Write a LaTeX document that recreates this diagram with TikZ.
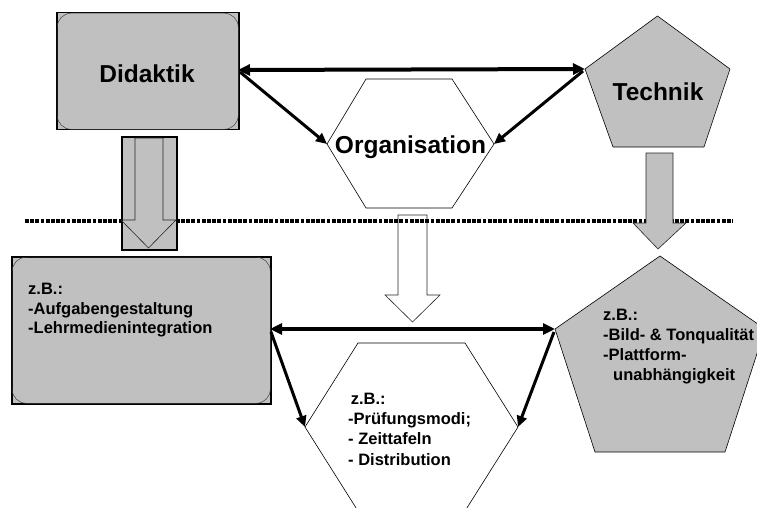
\documentclass[tikz,border=0pt]{standalone}
\usepackage{fontspec}
\setmainfont{Liberation Sans}
\usetikzlibrary{arrows.meta}
\definecolor{boxgray}{RGB}{192,192,192}
\begin{document}
\begin{tikzpicture}[x=1pt,y=-1pt,
  title/.style={font=\bfseries\fontsize{24.5}{29}\selectfont, inner sep=0pt, anchor=base},
  listA/.style={font=\bfseries\fontsize{16.5}{19.2}\selectfont, inner sep=0pt, align=left, anchor=north west},
  listB/.style={font=\bfseries\fontsize{16.5}{20.3}\selectfont, inner sep=0pt, align=left, anchor=north west},
  listC/.style={font=\bfseries\fontsize{16.5}{20}\selectfont, inner sep=0pt, align=left, anchor=north west},
  graybox/.style={draw=black, line width=1.5pt, fill=boxgray, inner sep=0pt, anchor=north west},
  innerround/.style={draw=black!75, line width=0.5pt, rounded corners=14pt},
  shapeline/.style={draw=black, line width=0.6pt},
  bigarrow/.style={draw=black!85, line width=0.6pt},
  conn/.style={line width=3pt, -{Triangle[length=11pt,width=10pt]}},
  connboth/.style={line width=4pt, {Triangle[length=12pt,width=11pt]}-{Triangle[length=12pt,width=11pt]}},
  sepline/.style={line width=3.4pt, dash pattern=on 3.8pt off 1.4pt}
]
\useasboundingbox (0,0) rectangle (757,508);

% ---------- top row ----------
\node[graybox, minimum width=182pt, minimum height=117pt] (did) at (56,12) {};
\draw[innerround] ([shift={(1.2,1.2)}]did.north west) rectangle ([shift={(-1.2,-1.2)}]did.south east);
\node[title] (didt) at (147,82.7) {Didaktik};

\coordinate (o1) at (366,79);
\coordinate (o2) at (452,79);
\coordinate (o3) at (494,144);
\coordinate (o4) at (452,208);
\coordinate (o5) at (366,208);
\coordinate (o6) at (327,144);
\filldraw[shapeline, fill=white] (o1) -- (o2) -- (o3) -- (o4) -- (o5) -- (o6) -- cycle;
\node[title] (orgt) at (410.5,153.3) {Organisation};

\coordinate (t1) at (657.5,16);
\coordinate (t2) at (730,69);
\coordinate (t3) at (704,147);
\coordinate (t4) at (613,147);
\coordinate (t5) at (585,69);
\filldraw[shapeline, fill=boxgray] (t1) -- (t2) -- (t3) -- (t4) -- (t5) -- cycle;
\node[title] (techt) at (658,101) {Technik};

% ---------- top connectors ----------
\coordinate (didE) at (238,70);
\coordinate (didE2) at (240,72);
\coordinate (tecW2) at (583,71);
\draw[connboth] (didE) -- (t5);
\draw[conn] (didE2) -- (o6);
\draw[conn] (tecW2) -- (o3);

% ---------- organisation arrow (white, behind separator) ----------
\filldraw[bigarrow, fill=white] (398,215) -- (427,215) -- (427,295) -- (440,295) -- (412.5,322) -- (385,295) -- (398,295) -- cycle;

% ---------- separator ----------
\coordinate (sepL) at (25,221);
\coordinate (sepR) at (733,221);
\draw[sepline] (sepL) -- (sepR);

% ---------- didaktik arrow ----------
\node[graybox, minimum width=55pt, minimum height=113pt] (darr) at (121,136) {};
\draw[bigarrow] (135,138) -- (163,138) -- (163,220) -- (176,220) -- (148.5,248) -- (121,220) -- (135,220) -- cycle;

% ---------- technik arrow ----------
\filldraw[bigarrow, fill=boxgray] (646,153) -- (673,153) -- (673,223) -- (686,223) -- (658,249) -- (633,223) -- (646,223) -- cycle;

% ---------- bottom row ----------
\node[graybox, minimum width=259pt, minimum height=147pt] (lbox) at (11,256) {};
\draw[innerround] ([shift={(1.2,1.2)}]lbox.north west) rectangle ([shift={(-1.2,-1.2)}]lbox.south east);
\node[listA] (ltext) at (28,282.7) {\rule{0pt}{12pt}z.B.:\\-Aufgabengestaltung\\-Lehrmedienintegration};

\coordinate (h1) at (358,343);
\coordinate (h2) at (465,343);
\coordinate (h3) at (518,427);
\coordinate (h4) at (465,511);
\coordinate (h5) at (358,511);
\coordinate (h6) at (305,427);
\filldraw[shapeline, fill=white] (h1) -- (h2) -- (h3) -- (h4) -- (h5) -- (h6) -- cycle;
\node[listB] (htext) at (348,391.5) {\rule{0pt}{12.5pt}\hspace{2.7pt}z.B.:\\-Prüfungsmodi;\\- Zeittafeln\\- Distribution};

\coordinate (p1) at (660,256);
\coordinate (p2) at (765,329);
\coordinate (p3) at (725,452);
\coordinate (p4) at (595,452);
\coordinate (p5) at (555,329);
\filldraw[shapeline, fill=boxgray] (p1) -- (p2) -- (p3) -- (p4) -- (p5) -- cycle;
\node[listC] (ptext) at (603,308.2) {\rule{0pt}{12.5pt}z.B.:\\-Bild- \& Tonqualität\\-Plattform-\\\hspace{10pt}unabhängigkeit};

% ---------- bottom connectors ----------
\coordinate (lboxE) at (270,329);
\coordinate (lboxE2) at (271,332);
\coordinate (pW2) at (554,332);
\draw[connboth] (lboxE) -- (p5);
\draw[conn] (lboxE2) -- (h6);
\draw[conn] (pW2) -- (h3);
\end{tikzpicture}
\end{document}
